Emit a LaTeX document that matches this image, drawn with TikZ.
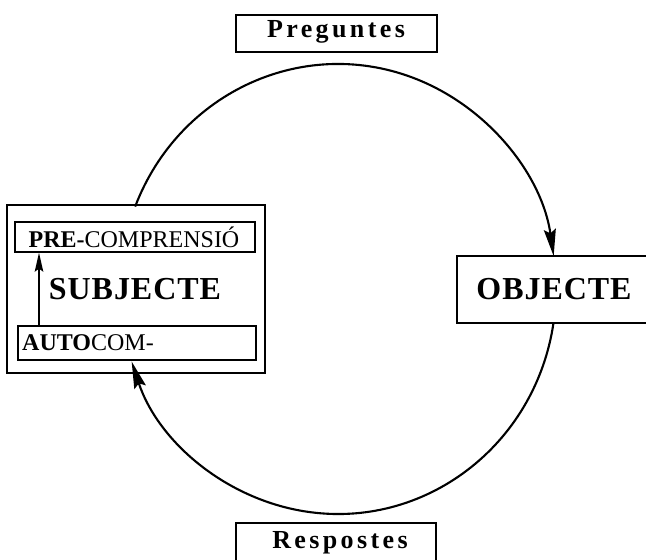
\documentclass[tikz,border=0pt]{standalone}
\usepackage{fontspec}
\setmainfont{Liberation Serif}
\newfontfamily\widefont[LetterSpace=13]{Liberation Serif}
\newfontfamily\titlefont[LetterSpace=3]{Liberation Serif}
\usetikzlibrary{arrows.meta,calc}
\tikzset{
  labelbox/.style={draw, line width=1.2pt, inner sep=0pt},
  innerbox/.style={draw, line width=1.3pt, inner sep=0pt},
  outerbox/.style={draw, line width=2.2pt, inner sep=0pt},
  cyclearrow/.style={line width=2.1pt, -{Stealth[length=27pt,width=12pt,inset=4pt]}},
  smallarrow/.style={line width=1.7pt, -{Stealth[length=19pt,width=8.5pt,inset=3pt]}},
  qtext/.style={font=\widefont\bfseries\fontsize{26}{26}\selectfont},
  bigtext/.style={font=\titlefont\bfseries\fontsize{32}{32}\selectfont},
  smalltext/.style={font=\fontsize{24}{24}\selectfont}
}
\begin{document}
\begin{tikzpicture}[x=1pt,y=-1pt]
\useasboundingbox (0,0) rectangle (646,560);

% cycle centre
\coordinate (c) at (338,289);

% question and answer labels
\node[labelbox, minimum width=201pt, minimum height=37pt] (preg) at (336.5,33.5) {};
\node[qtext] (pregtext) at (336,32) {Preguntes};
\node[labelbox, minimum width=200pt, minimum height=44pt] (resp) at (336,545) {};
\node[qtext] (resptext) at (340,543) {Respostes};

% object
\node[labelbox, minimum width=203pt, minimum height=67pt] (obj) at (558.5,289.5) {};
\node[bigtext] (objtext) at (554,289) {OBJECTE};

% subject with its two inner boxes
\node[outerbox, minimum width=258pt, minimum height=168pt] (subj) at (136,289) {};
\node[innerbox, minimum width=240pt, minimum height=30pt] (pre) at (135,237) {};
\node[smalltext] (pretext) at (134,237) {\textbf{PRE-}COMPRENSIÓ};
\node[innerbox, minimum width=238pt, minimum height=34pt] (auto) at (137,343) {};
\node[smalltext, anchor=west, inner sep=0pt] (autotext) at (22,343) {\textbf{AUTO}COM-};
\node[bigtext] (subjtext) at (135,289) {SUBJECTE};

% arrow from self-understanding up to pre-understanding
\draw[smallarrow] (auto.north -| 39,0) -- (pre.south -| 39,0);

% upper half of the cycle: subject -> object
\draw[cyclearrow] ($(c)+(158.5:218pt and 225pt)$)
  arc[start angle=158.5, end angle=8.4, x radius=218pt, y radius=225pt];
% lower half of the cycle: object -> subject
\draw[cyclearrow] ($(c)+(-8.7:218pt and 225pt)$)
  arc[start angle=-8.7, end angle=-161.2, x radius=218pt, y radius=225pt];
\end{tikzpicture}
\end{document}
